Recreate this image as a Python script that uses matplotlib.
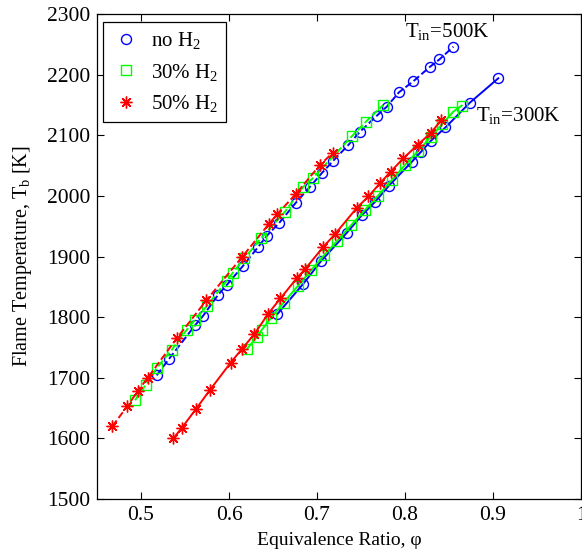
"""Flame temperature vs equivalence ratio for H2 enrichment levels."""

import matplotlib
matplotlib.use('Agg')
import matplotlib.pyplot as plt
from matplotlib.lines import Line2D


# T_in = 500 K (dashed)
phi_500_h0 = [0.5178, 0.5318, 0.5617, 0.5705, 0.5872, 0.5974, 0.6156, 0.6333,
              0.6428, 0.6568, 0.6761, 0.6920, 0.7057, 0.7185, 0.7356, 0.7489,
              0.7678, 0.7792, 0.7932, 0.8094, 0.8284, 0.8390, 0.8549]
tb_500_h0 = [1704, 1731, 1787, 1802, 1836, 1853, 1884, 1916,
             1934, 1955, 1989, 2015, 2038, 2058, 2084, 2106,
             2132, 2147, 2171, 2189, 2213, 2225, 2246]

phi_500_h30 = [0.4932, 0.5053, 0.5178, 0.5349, 0.5519, 0.5614, 0.5747, 0.5974,
               0.6042, 0.6174, 0.6364, 0.6636, 0.6844, 0.6951, 0.7394, 0.7553,
               0.7753]
tb_500_h30 = [1663, 1688, 1716, 1746, 1779, 1796, 1818, 1860,
              1873, 1897, 1930, 1974, 2015, 2029, 2098, 2122,
              2150]

phi_500_h50 = [0.4674, 0.4844, 0.4963, 0.5076, 0.5406, 0.5744, 0.6153, 0.6455,
               0.6549, 0.6758, 0.7034, 0.7178]
tb_500_h50 = [1620, 1653, 1678, 1700, 1765, 1828, 1900, 1954,
              1970, 2003, 2051, 2071]

# T_in = 300 K (solid)
phi_300_h0 = [0.6549, 0.6844, 0.7043, 0.7338, 0.7508, 0.7659, 0.7818, 0.8076,
              0.8184, 0.8295, 0.8460, 0.8739, 0.9060]
tb_300_h0 = [1805, 1855, 1892, 1939, 1968, 1990, 2017, 2056,
             2073, 2091, 2113, 2154, 2194]

phi_300_h30 = [0.6201, 0.6315, 0.6372, 0.6480, 0.6620, 0.6780, 0.6930, 0.7080,
               0.7230, 0.7390, 0.7540, 0.7690, 0.7850, 0.8000, 0.8150, 0.8290,
               0.8420, 0.8549, 0.8644]
tb_300_h30 = [1747, 1767, 1779, 1799, 1824, 1851, 1877, 1902,
              1926, 1952, 1976, 2000, 2026, 2051, 2074, 2097,
              2118, 2139, 2149]

phi_300_h50 = [0.5367, 0.5462, 0.5622, 0.5784, 0.6019, 0.6144, 0.6288, 0.6447,
               0.6585, 0.6769, 0.6869, 0.7072, 0.7205, 0.7451, 0.7583, 0.7716,
               0.7838, 0.7981, 0.8142, 0.8295, 0.8411]
tb_300_h50 = [1600, 1617, 1648, 1680, 1725, 1747, 1772, 1806,
              1831, 1864, 1880, 1916, 1937, 1980, 1999, 2021,
              2040, 2062, 2084, 2104, 2125]

labels = ['no H$_2$', '30% H$_2$', '50% H$_2$']

BLUE = '#0000ff'
GREEN = '#00ff00'
RED = '#ff0000'
ASTERISK = (8, 2, 0)

plt.rcParams.update({
    'font.family': 'Liberation Serif',
    'font.size': 15,
    'mathtext.fontset': 'custom',
    'mathtext.rm': 'Liberation Serif',
    'mathtext.it': 'Liberation Serif:italic',
    'xtick.direction': 'in',
    'ytick.direction': 'in',
    'xtick.top': True,
    'ytick.right': True,
})

fig = plt.figure(figsize=(5.82, 5.52), dpi=100)
ax = fig.add_axes([0.1667, 0.096, 0.8316, 0.8786])

series = [
    (phi_500_h0, tb_500_h0, BLUE, 'o', '--'),
    (phi_500_h30, tb_500_h30, GREEN, 's', '--'),
    (phi_500_h50, tb_500_h50, RED, ASTERISK, '--'),
    (phi_300_h0, tb_300_h0, BLUE, 'o', '-'),
    (phi_300_h30, tb_300_h30, GREEN, 's', '-'),
    (phi_300_h50, tb_300_h50, RED, ASTERISK, '-'),
]
for x, y, c, m, ls in series:
    ms = 8.5 if m == ASTERISK else 7.2
    ax.plot(x, y, color=c, linestyle=ls, linewidth=1.4, marker=m,
            markersize=ms, markerfacecolor='none', markeredgecolor=c,
            markeredgewidth=1.0)

ax.text(0.80, 2262, 'T$_{\\mathrm{in}}$=500K', ha='left', va='baseline')
ax.text(0.881, 2124, 'T$_{\\mathrm{in}}$=300K', ha='left', va='baseline')

ax.set_xlim(0.45, 1.0)
ax.set_ylim(1500, 2300)
ax.set_xticks([0.5, 0.6, 0.7, 0.8, 0.9, 1.0])
ax.set_xticklabels(['0.5', '0.6', '0.7', '0.8', '0.9', '1'])
ax.set_yticks(range(1500, 2301, 100))
ax.tick_params(length=5, width=0.8, pad=5, labelsize=15.5)
for s in ax.spines.values():
    s.set_linewidth(0.9)

ax.set_xlabel('Equivalence Ratio, φ', fontsize=14, labelpad=5)
ax.set_ylabel('Flame Temperature, T$_{\\mathrm{b}}$ [K]', fontsize=14.5, labelpad=9)

handles = [
    Line2D([0], [0], color=BLUE, linestyle='none', marker='o', markersize=7.2,
           markerfacecolor='none', markeredgewidth=1.0),
    Line2D([0], [0], color=GREEN, linestyle='none', marker='s', markersize=7.2,
           markerfacecolor='none', markeredgewidth=1.0),
    Line2D([0], [0], color=RED, linestyle='none', marker=ASTERISK, markersize=8.5,
           markerfacecolor='none', markeredgewidth=1.0),
]
leg = ax.legend(handles, labels, loc='upper left', bbox_to_anchor=(0.012, 0.984),
                fancybox=False, edgecolor='black', framealpha=1,
                handlelength=1.4, handletextpad=0.5, labelspacing=0.5,
                borderpad=0.4, borderaxespad=0, fontsize=15)
leg.get_frame().set_linewidth(0.9)

fig.savefig('out.png', dpi=100)
